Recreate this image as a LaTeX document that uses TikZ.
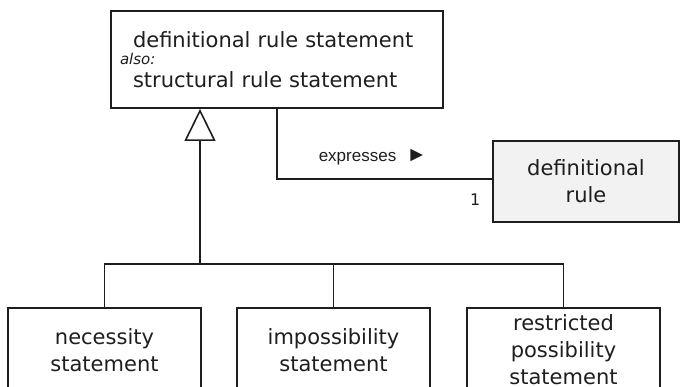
\documentclass[tikz,border=0pt]{standalone}
\usepackage{fontspec}
\setmainfont{DejaVu Sans}
\newfontfamily\rolefont{Liberation Sans}
\usetikzlibrary{arrows.meta, positioning, calc}
\definecolor{boxgray}{RGB}{242, 242, 242}
\definecolor{linedark}{RGB}{30, 30, 30}

\begin{document}
\begin{tikzpicture}[x=1pt, y=-1pt,
    conceptbox/.style={draw=linedark, line width=1.9pt, fill=white, text=linedark,
      font=\fontsize{21}{27}\selectfont, align=center,
      minimum width=193pt, minimum height=84pt, inner sep=0pt},
    link/.style={draw=linedark, line width=1.6pt},
    rolelabel/.style={inner sep=0pt, text=linedark, font=\rolefont\fontsize{17}{20}\selectfont}]
    \clip (0,0) rectangle (680,387);

    \node[conceptbox, minimum width=332pt, minimum height=97pt, text width=314pt,
      inner xsep=9pt, align=left] (drs) at (277,59.5)
      {\hspace*{13pt}definitional rule statement\\[-10pt]
       {\fontsize{15}{18}\selectfont\itshape also:}\\[-4pt]
       \hspace*{13pt}structural rule statement};
    \node[conceptbox, fill=boxgray, minimum width=186pt, minimum height=81pt] (dr) at (586,181.5)
      {definitional\\rule};
    \node[conceptbox] (nec) at (104.5,350) {necessity\\statement};
    \node[conceptbox] (imp) at (333.5,350) {impossibility\\statement};
    \node[conceptbox] (res) at (563.5,350) {restricted\\possibility\\statement};

    \coordinate (fork) at (200,264);
    \draw[link, -{Triangle[open, length=32pt, width=31pt, line width=1.6pt]}] (fork) -- (fork |- drs.south);
    \draw[link] (nec.north) |- (fork) -| (res.north);
    \draw[link] (imp.north) -- (imp.north |- fork);

    \draw[link] (drs.south) |- ([yshift=2.5pt]dr.west)
      node[rolelabel, pos=0.723, above=13pt] {expresses\hspace{10pt}{\fontsize{21}{21}\selectfont ►}}
      node[rolelabel, pos=1, anchor=north east, xshift=-11pt, yshift=-14pt,
        font=\fontsize{16}{16}\selectfont] {1};
\end{tikzpicture}
\end{document}
